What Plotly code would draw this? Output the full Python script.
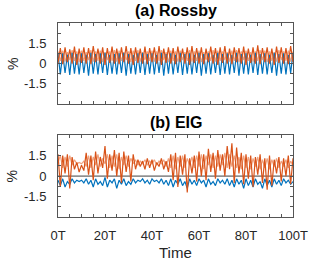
import plotly.graph_objects as go

# ---- data ----
time = list(range(101))

top_orange = [
    0.05, 1.15, -0.05, 1.20, 0.10, 1.05, 0.00, 1.25, -0.10, 1.10,
    0.05, 1.20, 0.00, 1.15, -0.05, 1.30, 0.10, 1.10, 0.00, 1.20,
    -0.10, 1.15, 0.05, 1.25, 0.00, 1.10, -0.05, 1.20, 0.10, 1.30,
    0.00, 1.15, -0.10, 1.20, 0.05, 1.10, 0.00, 1.25, -0.05, 1.15,
    0.10, 1.20, 0.00, 1.30, -0.10, 1.10, 0.05, 1.20, 0.00, 1.15,
    -0.05, 1.25, 0.10, 1.10, 0.00, 1.20, -0.10, 1.30, 0.05, 1.15,
    0.00, 1.20, -0.05, 1.10, 0.10, 1.25, 0.00, 1.15, -0.10, 1.20,
    0.05, 1.30, 0.00, 1.10, -0.05, 1.20, 0.10, 1.15, 0.00, 1.25,
    -0.10, 1.10, 0.05, 1.20, 0.00, 1.35, -0.05, 1.15, 0.10, 1.20,
    0.00, 1.10, -0.10, 1.25, 0.05, 1.20, 0.00, 1.15, -0.05, 1.30,
    0.10,
]
top_light = [
    0.90, 0.20, 0.95, 0.15, 0.85, 0.25, 1.00, 0.20, 0.90, 0.10,
    0.95, 0.20, 0.85, 0.25, 1.00, 0.15, 0.90, 0.20, 0.95, 0.10,
    0.85, 0.25, 0.90, 0.20, 1.00, 0.15, 0.95, 0.20, 0.85, 0.25,
    0.90, 0.10, 0.95, 0.20, 1.00, 0.15, 0.85, 0.25, 0.90, 0.20,
    0.95, 0.15, 0.90, 0.20, 1.00, 0.25, 0.85, 0.10, 0.95, 0.20,
    0.90, 0.15, 0.95, 0.25, 0.85, 0.20, 1.00, 0.15, 0.90, 0.20,
    0.95, 0.10, 0.85, 0.25, 0.90, 0.20, 1.00, 0.15, 0.95, 0.20,
    0.90, 0.25, 0.85, 0.15, 0.95, 0.20, 1.00, 0.10, 0.90, 0.25,
    0.95, 0.20, 0.85, 0.15, 0.90, 0.20, 1.00, 0.25, 0.95, 0.10,
    0.90, 0.20, 0.85, 0.15, 1.00, 0.25, 0.90, 0.20, 0.95, 0.15,
    0.90,
]
top_blue = [
    0.70, -0.80, 0.75, -0.70, 0.65, -0.85, 0.80, -0.75, 0.70, -0.80,
    0.75, -0.70, 0.65, -0.90, 0.80, -0.75, 0.70, -0.80, 0.75, -0.70,
    0.80, -0.85, 0.65, -0.75, 0.70, -0.80, 0.75, -0.70, 0.80, -0.90,
    0.70, -0.75, 0.65, -0.80, 0.75, -0.70, 0.80, -0.85, 0.70, -0.75,
    0.75, -0.80, 0.65, -0.70, 0.80, -0.90, 0.70, -0.75, 0.75, -0.80,
    0.65, -0.70, 0.80, -0.85, 0.70, -0.75, 0.75, -0.80, 0.65, -0.70,
    0.80, -0.90, 0.70, -0.75, 0.75, -0.80, 0.65, -0.70, 0.80, -0.85,
    0.70, -0.75, 0.75, -0.80, 0.65, -0.70, 0.80, -0.90, 0.70, -0.75,
    0.75, -0.80, 0.65, -0.70, 0.80, -0.85, 0.70, -0.75, 0.75, -0.80,
    0.65, -0.70, 0.80, -0.90, 0.70, -0.75, 0.75, -0.80, 0.65, -0.70,
    0.75,
]

bot_orange = [
    1.6, -0.8, 1.5, 0.2, 1.6, -0.9, 1.4, 0.5, 1.0, 0.3,
    0.8, 0.4, 1.7, 0.1, 1.5, -0.3, 1.8, 0.2, 1.4, 0.6,
    2.2, -0.2, 1.6, 0.4, 1.9, 0.0, 1.7, -0.5, 1.8, 0.3,
    1.5, -0.4, 1.6, 0.5, 1.2, 0.7, 1.1, 0.5, 1.3, 0.6,
    1.2, 0.4, 1.0, 0.7, 1.3, 0.5, 1.1, 0.3, 1.6, -0.3,
    1.7, -0.8, 1.5, 0.1, 1.6, -1.2, 1.3, 0.2, 1.5, -0.4,
    1.8, 0.0, 1.6, -0.3, 2.0, 0.3, 1.7, -0.2, 1.9, 0.4,
    1.6, 0.0, 2.2, 0.5, 2.4, -0.5, 2.1, 0.2, 1.7, -0.6,
    1.6, -0.2, 1.5, -0.8, 1.4, 0.1, 1.6, -0.5, 1.3, -1.0,
    1.5, -0.7, 1.2, 0.2, 1.4, -0.4, 1.3, 0.0, 1.5, -0.6,
    1.3,
]
bot_light = [
    1.0, 1.5, 0.6, 1.4, 0.7, 1.5, 0.8, 1.2, 0.9, 1.0,
    0.9, 1.1, 0.7, 1.5, 0.6, 1.4, 0.8, 1.6, 0.7, 1.3,
    0.9, 1.6, 0.6, 1.5, 0.7, 1.6, 0.5, 1.4, 0.8, 1.5,
    0.7, 1.3, 0.9, 1.2, 0.8, 1.1, 0.9, 1.2, 0.8, 1.1,
    0.9, 1.2, 0.8, 1.1, 0.9, 1.2, 0.7, 1.3, 0.6, 1.5,
    0.5, 1.4, 0.7, 1.5, 0.6, 1.3, 0.8, 1.4, 0.6, 1.5,
    0.7, 1.6, 0.5, 1.5, 0.8, 1.6, 0.6, 1.5, 0.7, 1.6,
    0.8, 1.7, 0.6, 1.6, 0.7, 1.5, 0.6, 1.4, 0.5, 1.5,
    0.6, 1.4, 0.5, 1.3, 0.7, 1.4, 0.5, 1.2, 0.6, 1.3,
    0.5, 1.2, 0.7, 1.3, 0.6, 1.1, 0.7, 1.2, 0.6, 1.1,
    0.8,
]
bot_blue = [
    -0.3, -0.7, -0.2, -0.8, -0.4, -0.6, -0.2, -0.5, -0.3, -0.4,
    -0.3, -0.5, -0.2, -0.6, -0.3, -0.8, -0.2, -0.6, -0.4, -0.7,
    -0.1, -0.8, -0.3, -0.5, -0.2, -0.9, -0.3, -0.6, -0.2, -0.7,
    -0.4, -0.6, -0.2, -0.5, -0.3, -0.4, -0.2, -0.5, -0.3, -0.6,
    -0.2, -0.4, -0.3, -0.5, -0.2, -0.6, -0.3, -0.7, -0.2, -0.8,
    -0.3, -0.6, -0.2, -0.7, -0.4, -0.9, -0.2, -0.6, -0.3, -0.7,
    -0.2, -0.5, -0.3, -0.8, -0.2, -0.6, -0.4, -0.7, -0.2, -0.5,
    -0.3, -0.6, -0.2, -0.7, -0.3, -0.8, -0.2, -0.6, -0.3, -0.9,
    -0.2, -0.7, -0.3, -0.8, -0.2, -0.6, -0.4, -0.9, -0.2, -0.7,
    -0.3, -0.8, -0.2, -0.6, -0.3, -0.7, -0.2, -0.5, -0.3, -0.6,
    -0.4,
]
zero_x = [0, 100]
zero_y = [0, 0]

x_tickvals = list(range(0, 101, 5))
x_ticktext = [f"{v}T" if v % 20 == 0 else "" for v in x_tickvals]
y_tickvals = [-2.25, -1.5, -0.75, 0, 0.75, 1.5, 2.25]
y_ticktext = ["", "-1.5", "", "0", "", "1.5", ""]

BLUE = "#0072BD"
ORANGE = "#D95319"
LIGHT = "#F0A27E"
AXC = "#555555"
TXT = "#262626"
FONT = "Liberation Sans, Arial, sans-serif"

fig = go.Figure()

def add(x, y, color, xa, ya, w=1.2):
    fig.add_trace(go.Scatter(x=x, y=y, mode="lines", line=dict(color=color, width=w),
                             xaxis=xa, yaxis=ya, showlegend=False, hoverinfo="skip"))

add(time, top_light, LIGHT, "x", "y")
add(time, top_blue, BLUE, "x", "y")
add(time, top_orange, ORANGE, "x", "y")

add(time, bot_light, LIGHT, "x2", "y2")
add(time, bot_blue, BLUE, "x2", "y2")
add(zero_x, zero_y, "#404040", "x2", "y2", 1)
add(time, bot_orange, ORANGE, "x2", "y2")

xcommon = dict(range=[0, 100], tickvals=x_tickvals, ticktext=x_ticktext, ticks="inside",
               ticklen=3, tickcolor=AXC, showline=True, linecolor=AXC, linewidth=1,
               mirror="allticks", showgrid=False, zeroline=False,
               tickfont=dict(family=FONT, size=13, color=TXT))
ycommon = dict(range=[-3, 3], tickvals=y_tickvals, ticktext=y_ticktext, ticks="inside",
               ticklen=3, tickcolor=AXC, showline=True, linecolor=AXC, linewidth=1,
               mirror="allticks", showgrid=False, zeroline=False, ticklabelstandoff=8,
               tickfont=dict(family=FONT, size=13, color=TXT))

fig.update_layout(
    width=320, height=261,
    margin=dict(l=57.5, r=18, t=23, b=44.3),
    paper_bgcolor="white", plot_bgcolor="white",
    xaxis=dict(domain=[0, 1], anchor="y", showticklabels=False, **xcommon),
    yaxis=dict(domain=[0.582, 1], anchor="x", **ycommon),
    xaxis2=dict(domain=[0, 1], anchor="y2", ticklabelstandoff=6, **xcommon),
    yaxis2=dict(domain=[0, 0.4218], anchor="x2", **ycommon),
    annotations=[
        dict(text="<b>(a) Rossby</b>", x=0.5, y=1.062, xref="paper", yref="paper",
             showarrow=False, yanchor="middle", font=dict(family=FONT, size=16, color="black")),
        dict(text="<b>(b) EIG</b>", x=0.5, y=0.489, xref="paper", yref="paper",
             showarrow=False, yanchor="middle", font=dict(family=FONT, size=16, color="black")),
        dict(text="%", x=-0.194, y=0.791, xref="paper", yref="paper", textangle=-90,
             showarrow=False, xanchor="center", yanchor="middle",
             font=dict(family=FONT, size=14, color=TXT)),
        dict(text="%", x=-0.194, y=0.211, xref="paper", yref="paper", textangle=-90,
             showarrow=False, xanchor="center", yanchor="middle",
             font=dict(family=FONT, size=14, color=TXT)),
        dict(text="Time", x=0.5, y=-0.182, xref="paper", yref="paper",
             showarrow=False, xanchor="center", yanchor="middle",
             font=dict(family=FONT, size=15, color=TXT)),
    ],
)

fig.write_html("out.html", config={"displayModeBar": False},
               post_script="document.body.style.margin='0px';")
